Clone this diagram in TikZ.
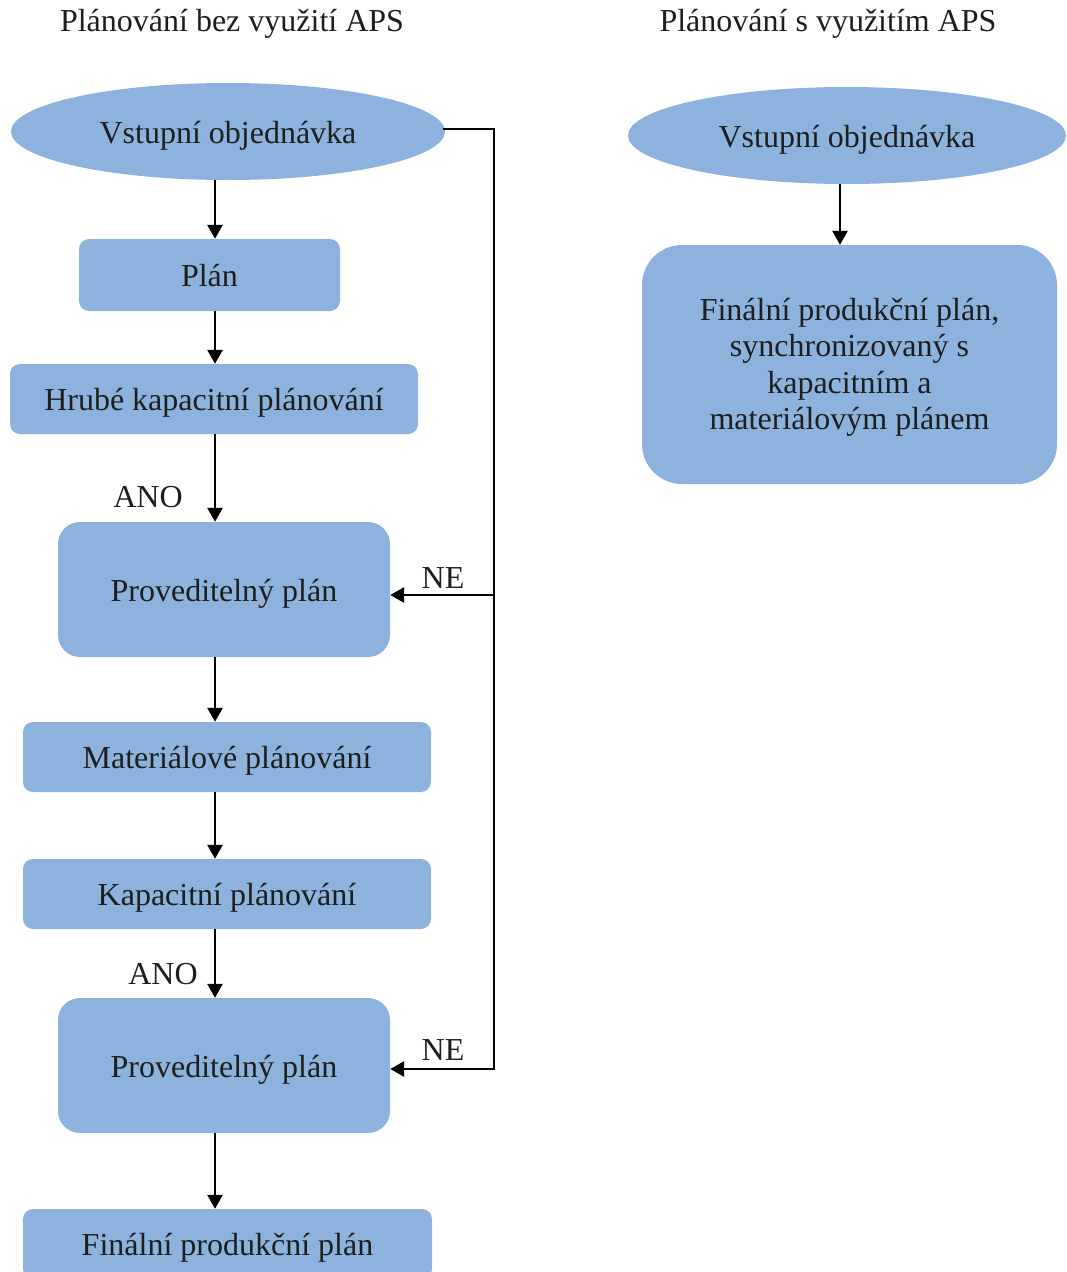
\documentclass[tikz,border=0pt]{standalone}
\usepackage{fontspec}
\setmainfont{Liberation Serif}
\usetikzlibrary{shapes.geometric,arrows.meta}
\definecolor{boxblue}{RGB}{142,178,222}
\definecolor{txt}{RGB}{30,30,30}
\begin{document}
\begin{tikzpicture}[x=1pt,y=-1pt,
  every node/.style={font=\fontsize{32}{36.5}\selectfont, text=txt},
  fixt/.style={text height=30pt, text depth=7pt},
  oval/.style={ellipse, fill=boxblue, inner sep=0pt, fixt},
  stepbox/.style={rectangle, rounded corners=10pt, fill=boxblue, inner sep=0pt, minimum width=408pt, minimum height=70pt, fixt},
  bigbox/.style={rectangle, rounded corners=22pt, fill=boxblue, inner sep=0pt, minimum width=332pt, minimum height=135pt, fixt},
  lbl/.style={inner sep=0pt, fixt},
  arr/.style={line width=2.7pt, line join=miter, -{Triangle[length=14pt,width=15pt]}}
]
\clip (0,0) rectangle (1066,1272);
\useasboundingbox (0,0) rectangle (1066,1272);

% titles
\node[lbl] (t1) at (232,20) {Plánování bez využití APS};
\node[lbl] (t2) at (828,20) {Plánování s využitím APS};

% left column
\node[oval, minimum width=434pt, minimum height=97pt] (e1) at (228,131.5) {Vstupní objednávka};
\node[stepbox, minimum width=261pt, minimum height=72pt] (plan) at (209.5,275) {Plán};
\node[stepbox] (hrube) at (214,399) {Hrubé kapacitní plánování};
\node[bigbox] (p1) at (224,589.5) {Proveditelný plán};
\node[stepbox] (mat) at (227,757) {Materiálové plánování};
\node[stepbox] (kap) at (227,894) {Kapacitní plánování};
\node[bigbox] (p2) at (224,1065.5) {Proveditelný plán};
\node[stepbox, minimum width=409pt] (fin) at (227.5,1244) {Finální produkční plán};

% labels
\node[lbl] (ano1) at (148,496) {ANO};
\node[lbl] (ano2) at (163,973) {ANO};
\node[lbl] (ne1) at (443,577) {NE};
\node[lbl] (ne2) at (443,1049) {NE};

% right column
\node[oval, minimum width=438pt, minimum height=97pt] (e2) at (847,135.5) {Vstupní objednávka};
\node[rectangle, rounded corners=40pt, fill=boxblue, inner sep=0pt, minimum width=415pt, minimum height=239pt] (r) at (849.5,364.5)
  {\raisebox{-3pt}[\height][\depth]{\begin{tabular}{@{}c@{}}Finální produkční plán,\\synchronizovaný s\\kapacitním a\\materiálovým plánem\end{tabular}}};

% connectors
\coordinate (c) at (215,0);
\coordinate (cr) at (840,0);
\draw[arr] (e1.south -| c) -- (plan.north -| c);
\draw[arr] (plan.south -| c) -- (hrube.north -| c);
\draw[arr] (hrube.south -| c) -- (p1.north -| c);
\draw[arr] (p1.south -| c) -- (mat.north -| c);
\draw[arr] (mat.south -| c) -- (kap.north -| c);
\draw[arr] (kap.south -| c) -- (p2.north -| c);
\draw[arr] (p2.south -| c) -- (fin.north -| c);
\draw[arr] (e2.south -| cr) -- (r.north -| cr);

% feedback loop
\coordinate (fbtop) at (494,129);
\coordinate (fb1) at (494,595);
\coordinate (fb2) at (494,1069);
\draw[arr] (443,129) -- (fbtop) -- (fb2) -- (fb2 -| p2.east);
\draw[arr] (fb1) -- (fb1 -| p1.east);
\end{tikzpicture}
\end{document}
